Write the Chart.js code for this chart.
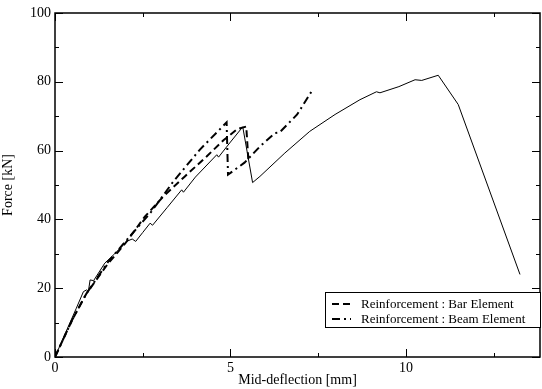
<!DOCTYPE html>
<html>
<head>
<meta charset="utf-8">
<script src="https://cdn.jsdelivr.net/npm/chart.js@4"></script>
<style>
  html, body { margin: 0; padding: 0; background: #fff; }
  #wrap { width: 542px; height: 389px; }
</style>
</head>
<body>
<div id="wrap"><canvas id="forceChart"></canvas></div>
<script>
// Experiment (solid line)
var expDeflection = [0, 0.3, 0.6, 0.81, 0.9, 0.95, 1.0, 1.1, 1.42, 1.7, 2.04, 2.2, 2.3, 2.5, 2.71, 2.78, 3.2, 3.61, 3.66, 4.0, 4.61, 4.66, 5.0, 5.35, 5.63, 5.84, 6.55, 7.26, 7.98, 8.69, 9.16, 9.26, 9.8, 10.26, 10.45, 10.92, 11.49, 13.25];
var expForce = [0, 7, 14, 19.0, 19.5, 19.0, 22.4, 22.2, 27.3, 30, 33.6, 34.3, 33.6, 36.2, 38.9, 38.3, 43.5, 48.6, 47.9, 52.3, 58.8, 58.1, 62.5, 66.9, 50.7, 52.5, 59.3, 65.6, 70.5, 74.8, 77.1, 76.8, 78.6, 80.6, 80.4, 81.9, 73.4, 24];

// Reinforcement : Bar Element (dashed)
var barDeflection = [0, 0.5, 0.9, 1.5, 2.0, 2.56, 3.09, 3.7, 4.32, 4.8, 5.2, 5.45, 5.51];
var barForce = [0, 11, 18.5, 27, 33, 40.8, 46.7, 52.5, 58.3, 63, 66.3, 67, 57.3];

// Reinforcement : Beam Element (dash-dot)
var beamDeflection = [0, 0.5, 0.9, 1.5, 2.0, 2.75, 3.37, 4.13, 4.89, 4.93, 5.4, 5.84, 6.27, 6.4, 6.9, 7.31];
var beamForce = [0, 11, 18.5, 27.5, 33.5, 42.3, 51, 60.3, 68.2, 53, 56.5, 61.2, 65.1, 65.3, 70.5, 77.2];

var xLabels = [0, 5, 10];
var xMinor = [2.5, 7.5, 12.5];
var yLabels = [0, 20, 40, 60, 80, 100];
var yMinor = [10, 30, 50, 70, 90];

function pts(xs, ys) {
  return xs.map(function (v, i) { return { x: v, y: ys[i] }; });
}

var serif = '"Liberation Serif", "Times New Roman", serif';

// frame, inward ticks and boxed legend
var framePlugin = {
  id: 'frame',
  afterDraw: function (chart) {
    var ctx = chart.ctx, a = chart.chartArea;
    var sx = chart.scales.x, sy = chart.scales.y;
    ctx.save();
    ctx.strokeStyle = '#000';
    ctx.lineWidth = 1.5;
    ctx.strokeRect(a.left, a.top, a.right - a.left, a.bottom - a.top);
    ctx.lineWidth = 1;
    function xt(v, len) {
      var p = Math.round(sx.getPixelForValue(v)) + 0.5;
      ctx.beginPath();
      ctx.moveTo(p, a.bottom); ctx.lineTo(p, a.bottom - len);
      ctx.moveTo(p, a.top); ctx.lineTo(p, a.top + len);
      ctx.stroke();
    }
    function yt(v, len) {
      var p = Math.round(sy.getPixelForValue(v)) + 0.5;
      ctx.beginPath();
      ctx.moveTo(a.left, p); ctx.lineTo(a.left + len, p);
      ctx.moveTo(a.right, p); ctx.lineTo(a.right - len, p);
      ctx.stroke();
    }
    xLabels.forEach(function (v) { xt(v, 8); });
    xMinor.forEach(function (v) { xt(v, 4); });
    yLabels.forEach(function (v) { yt(v, 8); });
    yMinor.forEach(function (v) { yt(v, 4); });

    // legend box
    var bx = 325.5, by = 292.5, bw = 215, bh = 35;
    ctx.fillStyle = '#fff';
    ctx.fillRect(bx, by, bw, bh);
    ctx.lineWidth = 1;
    ctx.strokeRect(bx, by, bw, bh);
    ctx.font = '13px ' + serif;
    ctx.fillStyle = '#000';
    ctx.textBaseline = 'middle';
    var rows = [chart.data.datasets[1], chart.data.datasets[2]];
    rows.forEach(function (ds, i) {
      var yy = 304 + i * 15;
      ctx.beginPath();
      ctx.lineWidth = ds.borderWidth;
      ctx.setLineDash(ds.borderDash);
      ctx.moveTo(332, yy); ctx.lineTo(351, yy);
      ctx.stroke();
      ctx.setLineDash([]);
      ctx.fillText(ds.label, 361, yy + 1);
    });
    ctx.restore();
  }
};

var ctx = document.getElementById('forceChart').getContext('2d');

var forceChart = new Chart(ctx, {
  type: 'scatter',
  data: {
    datasets: [{
      label: 'Experiment',
      data: pts(expDeflection, expForce),
      showLine: true,
      borderColor: '#000',
      borderWidth: 1,
      pointRadius: 0,
      fill: false
    }, {
      label: 'Reinforcement : Bar Element',
      data: pts(barDeflection, barForce),
      showLine: true,
      borderColor: '#000',
      borderWidth: 2,
      borderDash: [7, 4],
      pointRadius: 0,
      fill: false
    }, {
      label: 'Reinforcement : Beam Element',
      data: pts(beamDeflection, beamForce),
      showLine: true,
      borderColor: '#000',
      borderWidth: 2,
      borderDash: [8, 4, 2, 4],
      pointRadius: 0,
      fill: false
    }]
  },
  options: {
    responsive: true,
    maintainAspectRatio: false,
    animation: false,
    layout: { padding: { left: 0, right: 2, top: 13, bottom: 0 } },
    plugins: {
      legend: { display: false },
      tooltip: { enabled: false }
    },
    scales: {
      x: {
        type: 'linear',
        min: 0,
        max: 13.82,
        afterBuildTicks: function (s) { s.ticks = xLabels.map(function (v) { return { value: v }; }); },
        afterFit: function (s) { s.height = 32; },
        grid: { display: false, drawTicks: false },
        border: { display: false },
        ticks: { color: '#000', padding: 3, maxRotation: 0, font: { family: serif, size: 14 } },
        title: { display: true, text: 'Mid-deflection [mm]', color: '#000', padding: { top: -2, bottom: 0 }, font: { family: serif, size: 14 } }
      },
      y: {
        type: 'linear',
        min: 0,
        max: 100,
        afterBuildTicks: function (s) { s.ticks = yLabels.map(function (v) { return { value: v }; }); },
        afterFit: function (s) { s.width = 55; },
        grid: { display: false, drawTicks: false },
        border: { display: false },
        ticks: { color: '#000', padding: 4, font: { family: serif, size: 14 } },
        title: { display: true, text: 'Force [kN]', color: '#000', padding: 0, font: { family: serif, size: 14 } }
      }
    }
  },
  plugins: [framePlugin]
});
</script>
</body>
</html>
